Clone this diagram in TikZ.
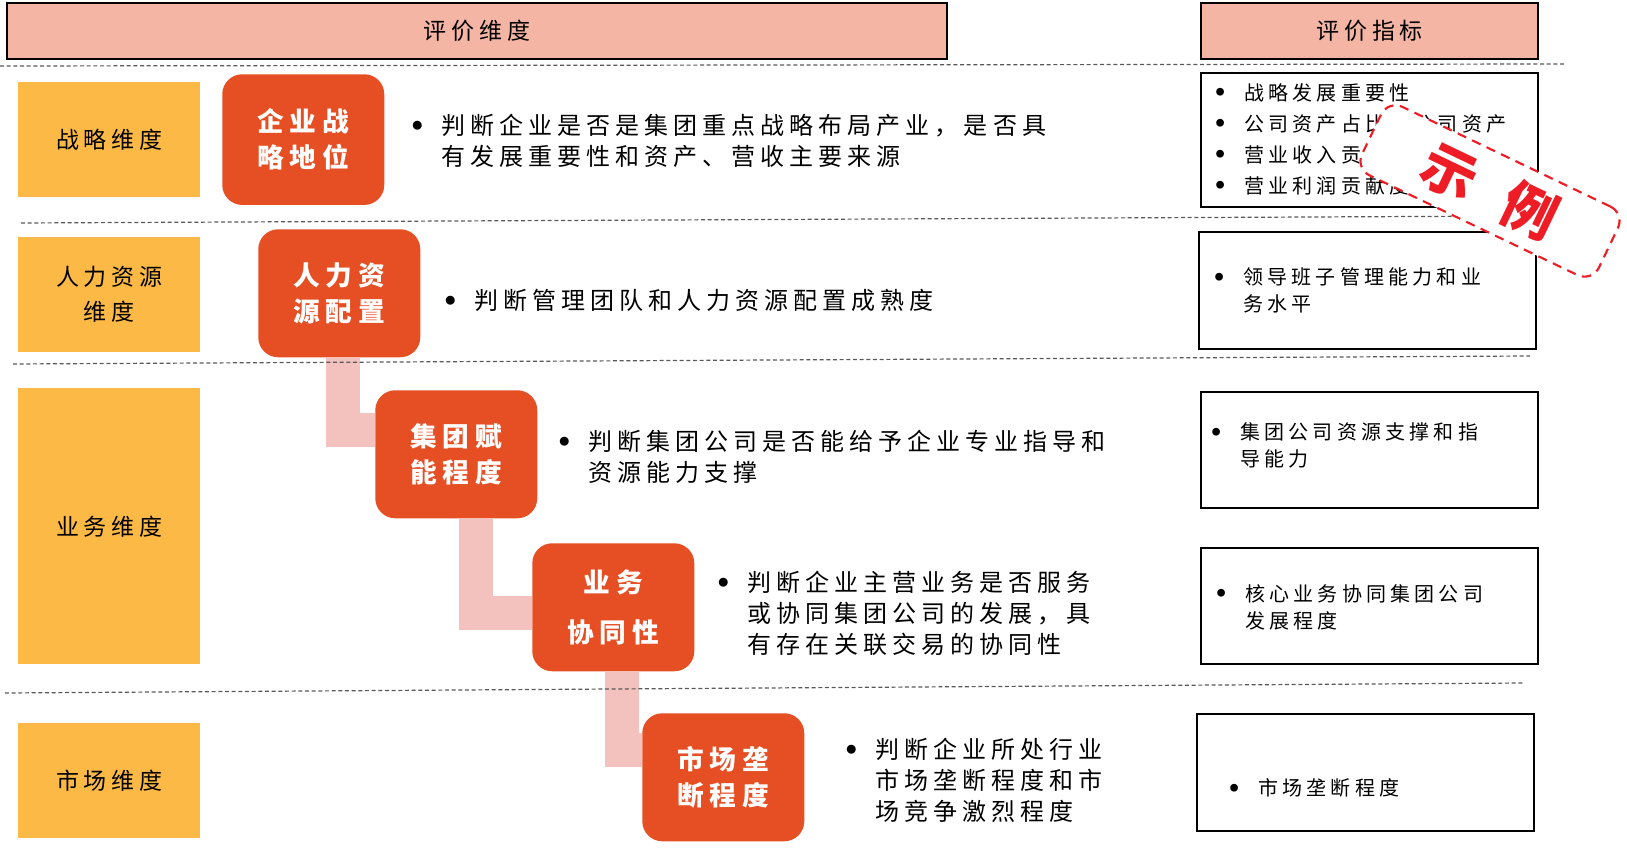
\documentclass[tikz,border=0pt]{standalone}
\usepackage{fontspec}
\setmainfont[LetterSpace=21]{Noto Sans CJK SC}
\usetikzlibrary{
	positioning
}
\definecolor{headpink}{HTML}{F4B5A5}
\definecolor{dimyellow}{HTML}{FDB946}
\definecolor{keyorange}{HTML}{E64E24}
\definecolor{linkpink}{HTML}{F3C2BF}
\definecolor{stampred}{HTML}{EE1C25}
\newcommand{\bul}{\makebox[12pt]{\raisebox{3.8pt}{\fontsize{7.5pt}{0pt}\selectfont ●}}\hspace{12pt}}
\newcommand{\bulsm}{\makebox[12pt]{\raisebox{3.2pt}{\fontsize{6.5pt}{0pt}\selectfont ●}}\hspace{12pt}}
\newcommand{\ind}{\hspace*{24pt}}
\tikzset{
%Define style for header boxes
headbox/.style={
	rectangle,
	draw=black, line width=1.6pt,
	fill=headpink,
	anchor=north west,
	minimum height=42pt,
	font=\fontsize{17.25pt}{20pt}\selectfont},
%Define style for dimension boxes
dimbox/.style={
	rectangle,
	fill=dimyellow,
	anchor=north west,
	minimum width=136.5pt,
	minimum height=86.25pt,
	align=center,
	font=\fontsize{17.25pt}{26.25pt}\selectfont},
%Define style for key boxes
keybox/.style={
	rectangle,
	rounded corners=15pt,
	fill=keyorange, text=white,
	anchor=north west,
	minimum width=121.5pt,
	minimum height=96pt,
	align=center,
	font=\bfseries\fontsize{20pt}{27pt}\selectfont},
%Define style for descriptions
desc/.style={
	anchor=west,
	align=left,
	font=\fontsize{18pt}{23.25pt}\selectfont},
%Define style for indicator boxes
idxbox/.style={
	rectangle,
	draw=black, line width=1.5pt,
	anchor=north west,
	minimum width=252.75pt,
	minimum height=87pt},
idxtext/.style={
	anchor=west,
	align=left,
	font=\fontsize{15pt}{20.25pt}\selectfont},
% Define link style
link/.style={
	draw=linkpink,
	line width=25.5pt,
	line join=miter},
sep/.style={
	densely dashed,
	draw=black!65,
	line width=0.9pt},
stamp/.style={
	rectangle,
	rounded corners=12pt,
	draw=stampred, line width=1.6pt,
	dash pattern=on 7pt off 5pt,
	fill=white, text=stampred,
	minimum width=197pt,
	minimum height=57pt,
	font=\bfseries\fontsize{41pt}{44pt}\selectfont}
}
\begin{document}
\begin{tikzpicture}[x=0.75pt,y=-0.75pt]
				\tikzstyle{every node}=[inner sep=0pt]
				\useasboundingbox (0,0) rectangle (1627,848);
				\node[headbox, minimum width=705pt] (hdim) at (6,2) {评价维度};
				\node[headbox, minimum width=252.75pt] (hidx) at (1200,2) {评价指标};
				% dimensions
				\node[dimbox] (dstr) at (18,82) {战略维度};
				\node[dimbox] (dhr) at (18,237) {人力资源\\维度};
				\node[dimbox, minimum height=207pt] (dbus) at (18,388) {业务维度};
				\node[dimbox] (dmkt) at (18,723) {市场维度};
				% key factors
				\node[keybox, minimum height=98pt] (kstr) at (222,74) {企业战\\略地位};
				\node[keybox] (khr) at (258,229) {人力资\\源配置};
				\node[keybox] (kgrp) at (375,390) {集团赋\\能程度};
				\node[keybox] (kbus) at (532,543) {业务\\[10pt]协同性};
				\node[keybox] (kmkt) at (642,713) {市场垄\\断程度};
				\draw[link] ([xshift=3pt]khr.south) |- ([yshift=18pt]kgrp.west);
				\draw[link] ([xshift=14.6pt]kgrp.south) |- ([yshift=-4.5pt]kbus.west);
				\draw[link] ([xshift=6.4pt]kbus.south) |- ([yshift=20.25pt]kmkt.west);
				% descriptions
				\node[desc] (tstr) at (409,140.5) {\bul 判断企业是否是集团重点战略布局产业，是否具\\\ind 有发展重要性和资产、营收主要来源};
				\node[desc] (thr) at (442,300) {\bul 判断管理团队和人力资源配置成熟度};
				\node[desc] (tgrp) at (556,456.5) {\bul 判断集团公司是否能给予企业专业指导和\\\ind 资源能力支撑};
				\node[desc] (tbus) at (715,613.5) {\bul 判断企业主营业务是否服务\\\ind 或协同集团公司的发展，具\\\ind 有存在关联交易的协同性};
				\node[desc] (tmkt) at (843,780) {\bul 判断企业所处行业\\\ind 市场垄断程度和市\\\ind 场竞争激烈程度};
				% indicators
				\node[idxbox, minimum height=100.5pt] (istr) at (1200,72) {};
				\node[idxbox, minimum height=87.75pt] (ihr) at (1198,231) {};
				\node[idxbox] (igrp) at (1200,391) {};
				\node[idxbox] (ibus) at (1200,547) {};
				\node[idxbox, minimum height=87.75pt] (imkt) at (1196,713) {};
				\node[idxtext, font=\fontsize{15pt}{23.25pt}\selectfont] at (1212,139) {\bulsm 战略发展重要性\\\bulsm 公司资产占比母公司资产\\\bulsm 营业收入贡献度\\\bulsm 营业利润贡献度};
				\node[idxtext] at (1211,290.5) {\bulsm 领导班子管理能力和业\\\ind 务水平};
				\node[idxtext] at (1208,445.5) {\bulsm 集团公司资源支撑和指\\\ind 导能力};
				\node[idxtext] at (1213,607) {\bulsm 核心业务协同集团公司\\\ind 发展程度};
				\node[idxtext] at (1226,788) {\bulsm 市场垄断程度};
				% separators
				\draw[sep] (0,66) -- (1564,64);
				\draw[sep] (21,223) -- (1525,216);
				\draw[sep] (13,364) -- (1530,356);
				\draw[sep] (5,693) -- (1523,683);
				\node[stamp, rotate=-25.6] (demo) at (1490,191) {示\hspace{26pt}例};
\end{tikzpicture}
\end{document}
